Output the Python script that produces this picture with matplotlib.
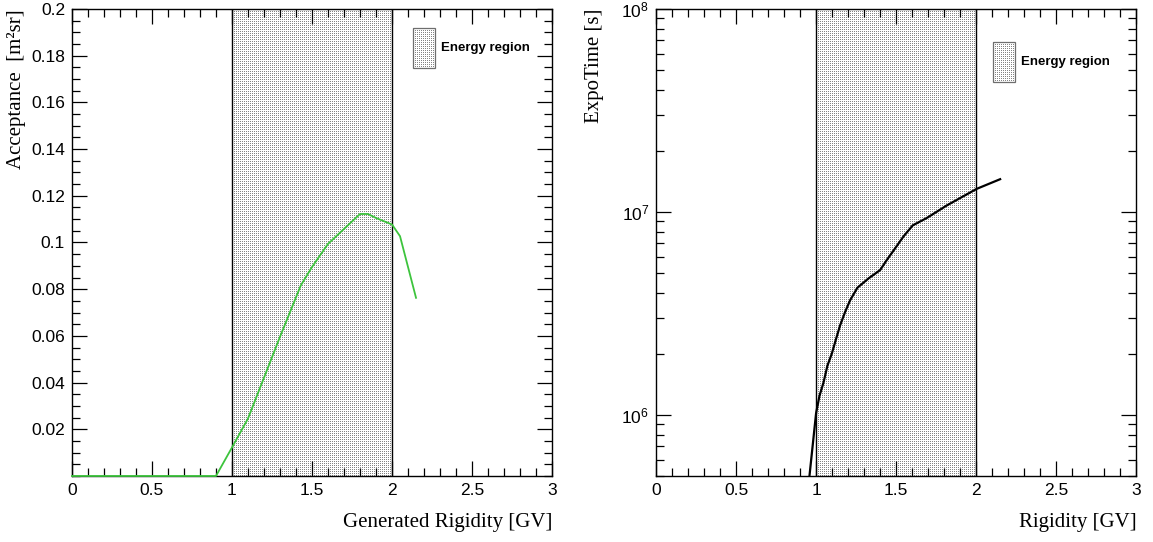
import numpy as np
import matplotlib
matplotlib.use('Agg')
import matplotlib.pyplot as plt
from matplotlib.ticker import MultipleLocator, FixedLocator, FixedFormatter, LogLocator
from matplotlib.patches import Rectangle

plt.rcParams['font.family'] = 'Liberation Sans'

# acceptance vs generated rigidity
rig_acc = [0.0, 0.1, 0.2, 0.3, 0.4, 0.5, 0.6, 0.7, 0.8, 0.9, 1.0, 1.1, 1.2, 1.3, 1.43,
           1.5, 1.6, 1.7, 1.8, 1.85, 1.9, 2.0, 2.05, 2.15]
acceptance = [0, 0, 0, 0, 0, 0, 0, 0, 0, 0, 0.0122, 0.0246, 0.0421, 0.0596, 0.0816,
              0.0895, 0.0994, 0.1058, 0.1122, 0.1122, 0.1105, 0.1077, 0.1027, 0.0763]

# exposure time vs rigidity
rig_expo = [0.958, 1.0, 1.021, 1.046, 1.071, 1.098, 1.125, 1.15, 1.181, 1.2125,
            1.258, 1.327, 1.40, 1.442, 1.494, 1.546, 1.604, 1.692, 1.817, 2.004, 2.15]
expotime = [4.95e5, 1.02e6, 1.24e6, 1.44e6, 1.75e6, 2.0e6, 2.37e6, 2.76e6, 3.21e6,
            3.67e6, 4.23e6, 4.70e6, 5.17e6, 5.80e6, 6.62e6, 7.57e6, 8.59e6, 9.34e6,
            1.077e7, 1.30e7, 1.45e7]

region = (1.0, 2.0)

fig = plt.figure(figsize=(11.53, 5.42), dpi=100)
ax1 = fig.add_axes([0.0624, 0.1218, 0.4164, 0.8616])
ax2 = fig.add_axes([0.569, 0.1218, 0.4164, 0.8616])


def root_style(ax):
    ax.set_facecolor('none')
    ax.tick_params(which='both', direction='in', top=True, right=True, labelsize=12.5,
                   width=0.9, pad=5)
    ax.tick_params(which='major', length=11)
    ax.tick_params(which='minor', length=6)
    for s in ax.spines.values():
        s.set_linewidth(1.0)
    ax.set_xlim(0, 3)
    ax.xaxis.set_major_locator(MultipleLocator(0.5))
    ax.xaxis.set_minor_locator(MultipleLocator(0.1))
    ax.xaxis.set_major_formatter(plt.FuncFormatter(lambda v, p: '%g' % v))


def stipple(p0, p1):
    # pixel-level dot pattern like ROOT fill style, placed under the axes
    x0, y0 = np.round(p0).astype(int)
    x1, y1 = np.round(p1).astype(int)
    w, h = x1 - x0, y1 - y0
    img = np.zeros((h, w, 4))
    img[::2, ::2, :3] = 0.52
    img[::2, ::2, 3] = 1.0
    fig.figimage(img, xo=x0, yo=y0, zorder=-1)


def energy_band(ax, lx, ly):
    ylo, yhi = ax.get_ylim()
    p = ax.transData.transform([(region[0], ylo), (region[1], yhi)])
    stipple(p[0], p[1])
    for xv in region:
        ax.axvline(xv, color='black', lw=1.0, zorder=1)
    lw, lh = 0.045, 0.085
    q = ax.transAxes.transform([(lx, ly), (lx + lw, ly + lh)])
    stipple(q[0], q[1])
    ax.add_patch(Rectangle((lx, ly), lw, lh, transform=ax.transAxes,
                           facecolor='none', edgecolor='#6e6e6e', linewidth=0.9, zorder=3))
    ax.text(lx + 0.058, ly + 0.043, 'Energy region', transform=ax.transAxes,
            fontsize=9.5, fontweight='bold', va='center', ha='left')


# left panel
root_style(ax1)
ax1.set_ylim(0, 0.2)
energy_band(ax1, 0.711, 0.874)
ax1.plot(rig_acc, acceptance, color='#3dc43d', lw=1.3, zorder=3, clip_on=False)
yt = [0.02, 0.04, 0.06, 0.08, 0.1, 0.12, 0.14, 0.16, 0.18, 0.2]
ax1.yaxis.set_major_locator(FixedLocator(yt))
ax1.yaxis.set_major_formatter(FixedFormatter(['%g' % v for v in yt]))
ax1.yaxis.set_minor_locator(MultipleLocator(0.005))
ax1.set_xlabel('Generated Rigidity [GV]', family='Liberation Serif', fontsize=15)
ax1.set_ylabel('Acceptance  [m\u00b2sr]', family='Liberation Serif', fontsize=15)
ax1.xaxis.set_label_coords(1.0, -0.08)
ax1.xaxis.label.set_ha('right')
ax1.yaxis.set_label_coords(-0.096, 1.0)
ax1.yaxis.label.set_ha('right')

# right panel
root_style(ax2)
ax2.set_yscale('log')
ax2.set_ylim(5e5, 1e8)
energy_band(ax2, 0.702, 0.844)
ax2.plot(rig_expo, expotime, color='black', lw=1.6, zorder=3)
ax2.yaxis.set_major_locator(LogLocator(base=10))
ax2.yaxis.set_minor_locator(LogLocator(base=10, subs=np.arange(2, 10)))
ax2.yaxis.set_minor_formatter(plt.NullFormatter())
ax2.set_xlabel('Rigidity [GV]', family='Liberation Serif', fontsize=15)
ax2.set_ylabel('ExpoTime [s]', family='Liberation Serif', fontsize=15)
ax2.xaxis.set_label_coords(1.0, -0.08)
ax2.xaxis.label.set_ha('right')
ax2.yaxis.set_label_coords(-0.108, 1.0)
ax2.yaxis.label.set_ha('right')

fig.savefig('out.png', dpi=100)
